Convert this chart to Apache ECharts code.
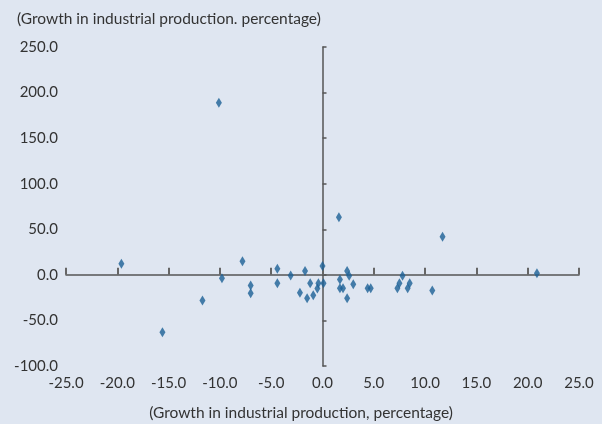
<!DOCTYPE html>
<html>
<head>
<meta charset="utf-8">
<script src="https://cdn.jsdelivr.net/npm/echarts@6/dist/echarts.min.js"></script>
<style>
  html, body { margin: 0; padding: 0; background: #dfe6f1; }
  #chart { width: 602px; height: 424px; }
</style>
</head>
<body>
<div id="chart"></div>
<script>
// x: growth in industrial production (%), y: growth (%)
const pointsX = [-19.6, -15.6, -11.7, -10.1, -9.8, -7.8, -7.0, -7.0, -4.4, -4.4,
  -3.1, -1.7, -2.2, -1.2, -1.5, -0.9, -0.5, -0.4, 0.0, 0.1,
  1.6, 1.7, 1.7, 2.0, 2.4, 2.4, 2.6, 3.0, 4.4, 4.7,
  7.3, 7.5, 7.8, 8.3, 8.5, 10.7, 11.7, 20.9];
const pointsY = [12.1, -62.9, -28.2, 188.7, -3.7, 14.8, -11.7, -20.1, 6.6, -9.1,
  -0.8, 4.1, -19.7, -9.1, -25.6, -22.3, -15.0, -9.1, 9.7, -9.1,
  63.3, -5.0, -14.6, -14.6, 4.1, -25.6, -1.1, -10.2, -14.6, -14.6,
  -14.6, -9.1, -1.1, -14.6, -9.1, -17.2, 41.7, 1.8];

const xRange = [-25, 25, 5];
const yRange = [-100, 250, 50];

const topTitle = "(Growth in industrial production. percentage)";
const bottomTitle = "(Growth in industrial production, percentage)";

const fontFamily = "Lato";
const textColor = "#333";
const lineColor = "#555";

const chart = echarts.init(document.getElementById("chart"));

const fmt = v => v.toFixed(1);

chart.setOption({
  backgroundColor: "#dfe6f1",
  animation: false,
  textStyle: { fontFamily: fontFamily },
  title: [
    {
      text: topTitle,
      left: 12,
      top: 6,
      textStyle: { fontFamily: fontFamily, fontSize: 15.5, fontWeight: "normal", color: textColor }
    },
    {
      text: bottomTitle,
      left: "center",
      top: 400,
      textStyle: { fontFamily: fontFamily, fontSize: 15.5, fontWeight: "normal", color: textColor }
    }
  ],
  grid: {
    left: 66,
    right: 23,
    top: 47,
    bottom: 58,
    containLabel: false,
    outerBoundsMode: "none"
  },
  xAxis: [
    {
      type: "value",
      min: xRange[0],
      max: xRange[1],
      interval: xRange[2],
      position: "bottom",
      axisLine: { show: true, onZero: true, lineStyle: { color: lineColor, width: 1.5 } },
      axisTick: { show: true, inside: true, length: 7, lineStyle: { color: "#666", width: 2 } },
      axisLabel: { show: false },
      splitLine: { show: false }
    },
    {
      type: "value",
      min: xRange[0],
      max: xRange[1],
      interval: xRange[2],
      position: "bottom",
      axisLine: { show: false, onZero: false },
      axisTick: { show: false },
      axisLabel: {
        show: true,
        margin: 10,
        formatter: fmt,
        showMinLabel: true,
        showMaxLabel: true,
        fontFamily: fontFamily,
        fontSize: 15,
        color: textColor
      },
      splitLine: { show: false }
    }
  ],
  yAxis: [
    {
      type: "value",
      min: yRange[0],
      max: yRange[1],
      interval: yRange[2],
      position: "left",
      axisLine: { show: true, onZero: true, lineStyle: { color: lineColor, width: 1.5 } },
      axisTick: { show: true, inside: true, length: 4, lineStyle: { color: "#555", width: 1.5 } },
      axisLabel: { show: false },
      splitLine: { show: false }
    },
    {
      type: "value",
      min: yRange[0],
      max: yRange[1],
      interval: yRange[2],
      position: "left",
      axisLine: { show: false, onZero: false },
      axisTick: { show: false },
      axisLabel: {
        show: true,
        margin: 8,
        formatter: fmt,
        showMinLabel: true,
        showMaxLabel: true,
        fontFamily: fontFamily,
        fontSize: 15,
        color: textColor
      },
      splitLine: { show: false }
    }
  ],
  series: [
    {
      type: "scatter",
      xAxisIndex: 0,
      yAxisIndex: 0,
      symbol: "diamond",
      symbolSize: [6, 10],
      itemStyle: { color: "#1b6096" },
      data: pointsX.map((x, i) => [x, pointsY[i]])
    }
  ]
});
</script>
</body>
</html>
